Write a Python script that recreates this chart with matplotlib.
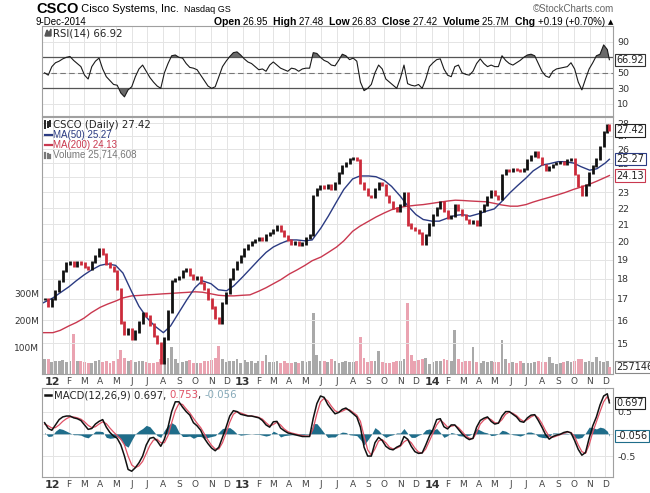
import numpy as np
import pandas as pd
import matplotlib
matplotlib.use('Agg')
import matplotlib.pyplot as plt
import matplotlib.dates as mdates
from matplotlib.lines import Line2D
from matplotlib.ticker import NullLocator

W, H = 650, 493

# weekly samples (Fridays) plus the last session, 9-Dec-2014
week_dates = list(pd.date_range('2011-12-16', '2014-12-05', freq='W-FRI')) + [pd.Timestamp('2014-12-09')]

close = [17.0, 16.7, 17.0,
         17.4, 17.9, 18.4, 18.8, 18.9, 18.7, 18.9, 18.8, 18.6, 18.5, 18.9, 19.2, 19.6,
         19.3, 18.8, 18.6, 18.4, 17.5, 15.9, 15.4, 15.6, 15.2, 15.5, 15.9, 16.3, 16.2,
         15.8, 15.3, 15.0, 14.2, 15.2, 16.4, 17.9, 18.0, 18.1, 18.4, 18.5, 18.2, 18.0,
         18.1, 17.8, 17.5, 17.0, 16.6, 16.1, 15.9, 16.8, 17.3, 18.0, 18.5, 18.9, 19.2,
         19.6, 19.8, 20.0, 20.1, 20.2, 20.1, 20.4, 20.5, 20.7, 20.9, 20.6, 20.3, 20.1,
         19.9, 20.0, 19.8, 19.9, 20.2, 20.4, 22.8, 23.2, 23.4, 23.3, 23.5, 23.2, 23.6,
         24.3, 24.8, 25.0, 25.3, 25.4, 25.2, 23.6, 23.2, 22.8, 22.7, 23.2, 23.6, 23.5,
         22.8, 22.4, 22.0, 21.8, 22.2, 23.0, 21.0, 20.8, 20.7, 20.5, 19.9, 20.4, 21.0,
         21.6, 22.0, 22.4, 21.8, 21.4, 21.5, 22.2, 21.9, 21.6, 21.3, 21.1, 21.2, 21.0,
         21.8, 22.2, 22.7, 23.1, 22.8, 22.6, 24.2, 24.5, 24.4, 24.6, 24.5, 24.4, 24.6,
         25.2, 25.5, 25.8, 25.4, 24.9, 24.5, 24.7, 24.9, 25.0, 25.1, 24.9, 25.2, 25.3,
         24.2, 23.4, 22.8, 23.5, 24.3, 24.8, 25.3, 26.2, 27.3, 27.9, 27.42]

volume_m = [55, 55, 45,
            50, 48, 52, 45, 47, 150, 50, 50, 46, 42, 40, 48, 52,
            45, 50, 42, 48, 55, 90, 60, 48, 52, 45, 48, 50, 44,
            40, 42, 45, 55, 50, 60, 100, 55, 42, 45, 48, 52, 40,
            42, 40, 50, 48, 52, 60, 105, 55, 45, 50, 48, 55, 40,
            52, 45, 48, 42, 50, 48, 70, 45, 44, 48, 42, 50, 40,
            42, 45, 40, 48, 45, 50, 228, 70, 50, 48, 45, 55, 50,
            42, 45, 48, 44, 46, 50, 140, 60, 45, 48, 50, 85, 44,
            42, 40, 45, 48, 50, 55, 266, 70, 48, 52, 55, 60, 38,
            45, 48, 50, 55, 52, 48, 165, 55, 45, 48, 50, 100, 45,
            42, 48, 45, 50, 44, 46, 128, 55, 42, 45, 40, 48, 42,
            40, 42, 45, 50, 46, 44, 65, 40, 38, 42, 44, 48, 45,
            50, 55, 58, 45, 48, 46, 62, 50, 45, 48, 25.7]

rsi = [50, 47, 58, 63, 65, 68, 70, 71, 66, 62,
       58, 47, 42, 58, 65, 69, 55, 45, 40, 35,
       34, 24, 19, 28, 32, 45, 55, 60, 52, 44,
       38, 33, 30, 50, 62, 72, 73, 70, 69, 62,
       57, 56, 54, 47, 40, 33, 30, 32, 45, 58,
       65, 71, 76, 77, 73, 68, 64, 62, 58, 54,
       55, 52, 60, 64, 60, 56, 54, 52, 56, 55,
       52, 55, 56, 56, 76, 75, 70, 66, 64, 60,
       59, 66, 74, 72, 67, 69, 65, 38, 27, 30,
       35, 50, 60, 55, 42, 38, 34, 30, 43, 60,
       36, 34, 33, 35, 30, 42, 58, 63, 67, 68,
       55, 47, 45, 58, 60, 50, 48, 47, 52, 62,
       68, 62, 58, 60, 58, 58, 72, 66, 62, 60,
       63, 66, 70, 73, 74, 72, 62, 52, 46, 44,
       52, 55, 56, 57, 58, 63, 55, 38, 28, 42,
       55, 63, 72, 74, 86, 80, 66.92]

macd = [0.25, 0.12, 0.08, 0.2, 0.32, 0.38, 0.40, 0.40, 0.36, 0.34,
        0.30, 0.2, 0.1, 0.12, 0.22, 0.28, 0.32, 0.15, 0.03, -0.05,
        -0.1, -0.25, -0.5, -0.8, -0.84, -0.76, -0.65, -0.5, -0.25, -0.1,
        -0.08, -0.16, -0.28, -0.12, 0.15, 0.5, 0.72, 0.72, 0.6, 0.5,
        0.42, 0.25, 0.18, 0.08, -0.1, -0.22, -0.32, -0.38, -0.3, -0.08,
        0.15, 0.4, 0.52, 0.5, 0.44, 0.42, 0.4, 0.4, 0.38, 0.36,
        0.3, 0.2, 0.15, 0.27, 0.28, 0.13, 0.07, 0.02, 0.0, -0.02,
        -0.04, -0.06, -0.06, -0.06, 0.35, 0.68, 0.85, 0.82, 0.66, 0.55,
        0.45, 0.48, 0.55, 0.58, 0.52, 0.45, 0.38, 0.15, -0.3, -0.5,
        -0.5, -0.2, -0.08, -0.15, -0.28, -0.34, -0.36, -0.3, -0.26, -0.06,
        -0.12, -0.28, -0.4, -0.44, -0.43, -0.25, -0.05, 0.1, 0.32, 0.34,
        0.16, 0.11, 0.2, 0.2, 0.1, 0.0, -0.08, -0.13, -0.1, 0.15,
        0.3, 0.35, 0.38, 0.28, 0.22, 0.24, 0.4, 0.5, 0.5, 0.44,
        0.38, 0.28, 0.26, 0.36, 0.42, 0.43, 0.3, 0.15, -0.02, -0.12,
        -0.06, -0.03, -0.01, 0.03, 0.05, 0.02, -0.15, -0.35, -0.48, -0.42,
        -0.1, 0.18, 0.38, 0.65, 0.85, 0.9, 0.697]

signal = [0.22, 0.18, 0.13, 0.14, 0.2, 0.28, 0.34, 0.38, 0.38, 0.36,
          0.33, 0.27, 0.19, 0.14, 0.16, 0.22, 0.27, 0.23, 0.13, 0.04,
          -0.04, -0.12, -0.25, -0.5, -0.7, -0.76, -0.72, -0.62, -0.44, -0.26,
          -0.14, -0.12, -0.2, -0.2, -0.04, 0.25, 0.52, 0.68, 0.66, 0.56,
          0.47, 0.35, 0.24, 0.14, 0.0, -0.14, -0.26, -0.34, -0.34, -0.2,
          0.02, 0.26, 0.44, 0.5, 0.47, 0.44, 0.41, 0.4, 0.39, 0.37,
          0.33, 0.25, 0.18, 0.21, 0.26, 0.2, 0.11, 0.05, 0.02, 0.0,
          -0.02, -0.04, -0.05, -0.05, 0.12, 0.45, 0.72, 0.8, 0.74, 0.62,
          0.52, 0.48, 0.51, 0.55, 0.54, 0.48, 0.42, 0.28, -0.05, -0.36,
          -0.48, -0.34, -0.16, -0.13, -0.2, -0.3, -0.34, -0.32, -0.28, -0.18,
          -0.13, -0.2, -0.32, -0.41, -0.43, -0.34, -0.16, 0.02, 0.2, 0.31,
          0.24, 0.15, 0.17, 0.19, 0.14, 0.05, -0.04, -0.1, -0.11, 0.03,
          0.22, 0.31, 0.36, 0.32, 0.25, 0.24, 0.32, 0.44, 0.49, 0.46,
          0.41, 0.33, 0.28, 0.32, 0.38, 0.42, 0.36, 0.23, 0.07, -0.06,
          -0.08, -0.05, -0.02, 0.01, 0.04, 0.03, -0.06, -0.25, -0.4, -0.44,
          -0.25, 0.04, 0.27, 0.5, 0.72, 0.84, 0.753]

# moving averages, read twice a month
ma_dates = (['2011-12-12']
            + [f'{y}-{m:02d}-{d:02d}' for y in (2012, 2013, 2014) for m in range(1, 13) for d in (1, 15)
               if not (y == 2014 and m == 12 and d == 15)]
            + ['2014-12-09'])
ma50 = [16.8,
        17.05, 17.3, 17.6, 17.9, 18.2, 18.45, 18.7, 18.78, 18.7, 18.3, 17.35, 16.65,
        16.1, 15.75, 15.45, 15.75, 16.4, 16.95, 17.55, 17.9, 17.75, 17.45, 17.4, 17.65,
        18.1, 18.5, 19.0, 19.4, 19.7, 19.9, 20.1, 20.1, 20.05, 20.1, 20.8, 21.5,
        22.4, 23.2, 23.9, 24.1, 24.1, 24.05, 23.8, 23.4, 22.75, 22.15, 21.6, 21.3,
        21.2, 21.2, 21.4, 21.55, 21.6, 21.5, 21.65, 21.8, 21.95, 22.4, 23.0, 23.45,
        23.95, 24.45, 24.85, 24.95, 25.1, 25.1, 25.0, 24.75, 24.5, 24.6, 25.0,
        25.27]
ma200 = [15.45,
         15.45, 15.55, 15.75, 15.9, 16.1, 16.35, 16.6, 16.75, 16.9, 17.05, 17.15, 17.17,
         17.2, 17.22, 17.25, 17.27, 17.3, 17.32, 17.35, 17.33, 17.25, 17.18, 17.15, 17.15,
         17.18, 17.2, 17.38, 17.55, 17.75, 17.95, 18.25, 18.45, 18.7, 18.95, 19.15, 19.4,
         19.7, 20.05, 20.6, 20.9, 21.2, 21.45, 21.7, 21.9, 22.05, 22.12, 22.18, 22.22,
         22.3, 22.37, 22.45, 22.5, 22.48, 22.45, 22.42, 22.4, 22.3, 22.2, 22.12, 22.12,
         22.22, 22.38, 22.55, 22.68, 22.85, 23.0, 23.2, 23.35, 23.55, 23.75, 24.0,
         24.13]

month_starts = pd.date_range('2012-01-01', '2014-12-01', freq='MS')
month_labels = [d.strftime('%y') if d.month == 1 else d.strftime('%b')[0] for d in month_starts]

GRID = '#e4e4e4'
EDGE = '#a0a0a0'
RED = '#cc2b3b'
NAVY = '#2b3b82'
MA_RED = '#c9384f'
HIST = '#1f6d8a'
SIG = '#e05266'

x = mdates.date2num(week_dates)
close = np.array(close)
prev = np.r_[close[0], close[:-1]]
down = close < prev
rsi = np.array(rsi)
macd = np.array(macd)
signal = np.array(signal)
hist = macd - signal
xma = mdates.date2num(pd.to_datetime(ma_dates))
x_left = mdates.date2num(pd.Timestamp('2011-12-11'))
x_right = mdates.date2num(pd.Timestamp('2014-12-16'))

fig = plt.figure(figsize=(6.5, 4.93), dpi=100)
fig.patch.set_facecolor('white')


def frame(l, t, r, b):
    return [l / W, 1 - b / H, (r - l) / W, (b - t) / H]


def style(ax):
    for s in ax.spines.values():
        s.set_color(EDGE)
        s.set_linewidth(0.8)
    ax.set_xlim(x_left, x_right)
    ax.set_xticks(mdates.date2num(month_starts))
    ax.grid(axis='x', color=GRID, lw=0.7)
    ax.set_axisbelow(True)
    ax.yaxis.tick_right()
    ax.tick_params(length=0, labelsize=6.8, colors='#333333', pad=3)


def month_axis(ax):
    ax.set_xticklabels(month_labels)
    for lbl in ax.get_xticklabels():
        if lbl.get_text().isdigit():
            lbl.set_fontweight('bold')
            lbl.set_fontsize(8)
        else:
            lbl.set_fontsize(6.5)
            lbl.set_color('#444444')
    ax.tick_params(axis='x', pad=2)


def tag(ax, y, text, ec, trans=None):
    ax.text(1.006, y, text, transform=trans or ax.get_yaxis_transform(),
            ha='left', va='center', fontsize=7, color='#222222', clip_on=False,
            bbox=dict(boxstyle='square,pad=0.12', fc='white', ec=ec, lw=0.8))


def rich(xp, yp, parts, align='left'):
    r = fig.canvas.get_renderer()
    widths = []
    for s, kw in parts:
        t = fig.text(0, 0, s, **kw)
        widths.append(t.get_window_extent(r).width)
        t.remove()
    if align == 'right':
        xp -= sum(widths)
    for (s, kw), w in zip(parts, widths):
        fig.text(xp / W, 1 - yp / H, s, va='center', ha='left', **kw)
        xp += w


def hline(x0, x1, yp, color, lw=1.6):
    fig.add_artist(Line2D([x0 / W, x1 / W], [1 - yp / H, 1 - yp / H], color=color, lw=lw))


# ---- RSI panel
ax_rsi = fig.add_axes(frame(42, 26, 613, 116))
style(ax_rsi)
ax_rsi.set_ylim(-5.7, 110.4)
ax_rsi.set_yticks([10, 30, 50, 70, 90])
ax_rsi.grid(axis='y', color=GRID, lw=0.7)
ax_rsi.axhline(70, color='#555555', lw=0.9)
ax_rsi.axhline(30, color='#555555', lw=0.9)
ax_rsi.axhline(50, color='#777777', lw=0.8, dashes=(5, 3))
ax_rsi.fill_between(x, rsi, 70, where=rsi > 70, interpolate=True, color='#6a6a6a', lw=0)
ax_rsi.fill_between(x, rsi, 30, where=rsi < 30, interpolate=True, color='#6a6a6a', lw=0)
ax_rsi.plot(x, rsi, color='#1a1a1a', lw=0.8)
ax_rsi.tick_params(axis='x', labelbottom=False)
tag(ax_rsi, rsi[-1], '66.92', '#333333')

# ---- price + volume panel
ax_vol = fig.add_axes(frame(42, 117, 613, 374))
ax_vol.set_xlim(x_left, x_right)
vol_colors = np.where(down, '#eaa3b1', '#a9a9a9')
ax_vol.bar(x, np.array(volume_m) * 1e6, width=5.5, color=vol_colors, lw=0)
ax_vol.set_ylim(0, 963e6)
ax_vol.set_yticks([1e8, 2e8, 3e8])
ax_vol.set_yticklabels(['100M', '200M', '300M'])
ax_vol.tick_params(length=0, labelsize=6.5, colors='#333333', pad=2, labelbottom=False)
ax_vol.set_xticks([])
for s in ax_vol.spines.values():
    s.set_visible(False)
tag(ax_vol, volume_m[-1] * 1e6, '25714608', '#888888')

ax_px = fig.add_axes(frame(42, 117, 613, 374))
ax_px.patch.set_visible(False)
style(ax_px)
ax_px.set_yscale('log')
ax_px.set_ylim(13.74, 28.49)
ax_px.set_yticks(range(15, 29))
ax_px.set_yticklabels([str(v) for v in range(15, 29)])
ax_px.yaxis.set_minor_locator(NullLocator())
ax_px.grid(axis='y', color=GRID, lw=0.7)
ax_px.plot(xma, ma200, color=MA_RED, lw=1.0)
ax_px.plot(xma, ma50, color=NAVY, lw=1.0)
ax_px.vlines(x, np.minimum(prev, close) - 0.06, np.maximum(prev, close) + 0.06,
             colors=np.where(down, RED, '#111111'), lw=2.0)
month_axis(ax_px)
tag(ax_px, close[-1], '27.42', '#222222')
tag(ax_px, ma50[-1], '25.27', NAVY)
tag(ax_px, ma200[-1], '24.13', MA_RED)

# ---- MACD panel
ax_macd = fig.add_axes(frame(42, 388, 613, 477))
style(ax_macd)
ax_macd.set_ylim(-0.97, 1.03)
ax_macd.set_yticks([-0.5, 0, 0.5])
ax_macd.set_yticklabels(['-0.5', '0', '0.5'])
ax_macd.grid(axis='y', color=GRID, lw=0.7)
ax_macd.fill_between(x, hist, 0, color=HIST, lw=0)
ax_macd.plot(x, signal, color=SIG, lw=0.9)
ax_macd.plot(x, macd, color='#111111', lw=1.1)
month_axis(ax_macd)
tag(ax_macd, macd[-1], '0.697', '#222222')
tag(ax_macd, hist[-1], '-0.056', HIST)

# ---- header
rich(36, 9, [('CSCO', dict(fontsize=10.5, weight='bold', family='Liberation Sans')),
             (' Cisco Systems, Inc.', dict(fontsize=8, family='Liberation Sans')),
             ('  Nasdaq GS', dict(fontsize=6.5, family='Liberation Sans'))])
fig.text(614 / W, 1 - 9 / H, '\u00a9StockCharts.com', ha='right', va='center',
         fontsize=7, color='#666666', family='Liberation Sans')
fig.text(36 / W, 1 - 22 / H, '9-Dec-2014', ha='left', va='center', fontsize=7, family='Liberation Sans')
b = dict(fontsize=7.5, weight='bold', family='Liberation Sans')
n = dict(fontsize=7, family='Liberation Sans')
rich(613, 22, [('Open ', b), ('26.95  ', n), ('High ', b), ('27.48  ', n), ('Low ', b), ('26.83  ', n),
               ('Close ', b), ('27.42  ', n), ('Volume ', b), ('25.7M  ', n), ('Chg ', b),
               ('+0.19 (+0.70%) ', n), ('\u25b2', dict(fontsize=5, family='DejaVu Sans'))], align='right')

# ---- panel legends
fig.add_artist(plt.Polygon([(45 / W, 1 - 36 / H), (47 / W, 1 - 30 / H), (49 / W, 1 - 33 / H),
                            (51 / W, 1 - 29 / H), (51 / W, 1 - 36 / H)], closed=True, color='#555555'))
fig.text(53 / W, 1 - 33 / H, 'RSI(14) 66.92', ha='left', va='center', fontsize=7.3, color='#222222')

for k, xx in enumerate((45, 47.5, 50)):
    fig.add_artist(Line2D([xx / W, xx / W], [1 - (128 - k) / H, 1 - (121 + k % 2) / H],
                          color='#222222', lw=1.4))
fig.text(53 / W, 1 - 124.5 / H, 'CSCO (Daily) 27.42', ha='left', va='center', fontsize=7.3, color='#222222')
hline(45, 52, 134.5, NAVY)
fig.text(53 / W, 1 - 134.5 / H, 'MA(50) 25.27', ha='left', va='center', fontsize=7, color=NAVY,
         family='Liberation Sans')
hline(45, 52, 144.5, MA_RED)
fig.text(53 / W, 1 - 144.5 / H, 'MA(200) 24.13', ha='left', va='center', fontsize=7, color=MA_RED,
         family='Liberation Sans')
for k, xx in enumerate((45, 47.5, 50)):
    fig.add_artist(Line2D([xx / W, xx / W], [1 - 158 / H, 1 - (153 + k) / H], color='#777777', lw=1.6))
fig.text(53 / W, 1 - 154.5 / H, 'Volume 25,714,608', ha='left', va='center', fontsize=7, color='#777777',
         family='Liberation Sans')

hline(45, 51, 395, '#111111', lw=1.8)
m = dict(fontsize=7.3, family='DejaVu Sans')
rich(54, 395, [('MACD(12,26,9) 0.697, ', dict(m, color='#222222')), ('0.753', dict(m, color=SIG)),
               (', ', dict(m, color='#222222')), ('-0.056', dict(m, color='#86a9b8'))])

fig.savefig('out.png', dpi=100)
